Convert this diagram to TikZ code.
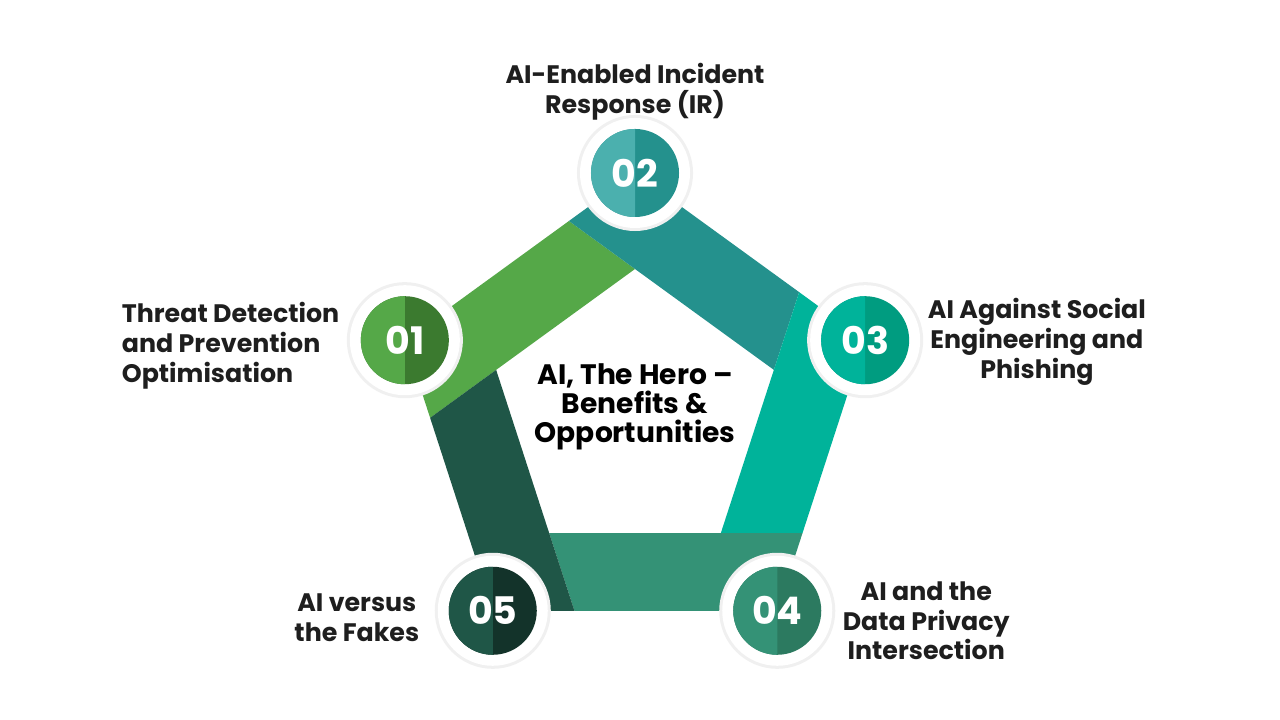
\documentclass[tikz,border=0pt]{standalone}
\usepackage{fontspec}
\setmainfont{Poppins}
\usetikzlibrary{calc,positioning}

\definecolor{bandA}{HTML}{55A848}
\definecolor{bandB}{HTML}{24918D}
\definecolor{bandC}{HTML}{00B39A}
\definecolor{bandD}{HTML}{349276}
\definecolor{bandE}{HTML}{1F5647}
\definecolor{darkA}{HTML}{3B7A2F}
\definecolor{lightB}{HTML}{4BB0AE}
\definecolor{darkC}{HTML}{009C80}
\definecolor{darkD}{HTML}{2C7A60}
\definecolor{darkE}{HTML}{13332A}
\definecolor{txt}{HTML}{1E1E1E}

\tikzset{
  ring/.style={circle,fill=white,minimum size=2.75cm,inner sep=0pt},
  num/.style={text=white,inner sep=0pt,font=\fontsize{27}{27}\selectfont\bfseries},
  lbl/.style={text=txt,inner sep=0pt,font=\fontsize{18}{21.3}\selectfont\bfseries}
}

\begin{document}
\begin{tikzpicture}[x=0.025cm,y=0.025cm]
    \useasboundingbox (0,0) rectangle (1280,720);
    \fill[white] (0,0) rectangle (1280,720);
    \coordinate (C) at (635,305);
    % outer and inner pentagon
    \foreach \k/\a in {1/162,2/90,3/18,4/-54,5/-126} {
      \coordinate (O\k) at ($(C)+(\a:242)$);
      \coordinate (I\k) at ($(C)+(\a:146)$);
    }
    \foreach \k/\p/\n in {1/5/2,2/1/3,3/2/4,4/3/5,5/4/1}
      \coordinate (Y\k) at (intersection cs: first line={(I\k)--(I\n)}, second line={(O\p)--(O\k)});
    % bands
    \foreach \k/\n/\c in {1/2/bandA,2/3/bandB,3/4/bandC,4/5/bandD,5/1/bandE}
      \fill[\c] (O\k) -- (Y\n) -- (I\n) -- (I\k) -- (Y\k) -- cycle;
    % circles
    \foreach \k/\l/\r in {1/bandA/darkA,2/lightB/bandB,3/bandC/darkC,4/bandD/darkD,5/bandE/darkE} {
      \fill[black!6] (O\k) circle (1.45cm);
      \node[ring] (ring\k) at (O\k) {};
      \fill[\r] (O\k) circle (1.1cm);
      \fill[\l] ($(O\k)+(0,1.1cm)$) arc[start angle=90,end angle=270,radius=1.1cm] -- cycle;
      \node[num] (num\k) at (O\k) {0\k};
    }
    % labels
    \node[lbl,align=left,left=0.25cm of ring1,yshift=-0.14cm] (lab1) {Threat Detection\\and Prevention\\Optimisation};
    \node[lbl,align=center,above=0.05cm of ring2,yshift=-0.13cm] (lab2) {AI-Enabled Incident\\Response (IR)};
    \node[lbl,align=center,right=0.18cm of ring3,yshift=-0.05cm] (lab3) {AI Against Social\\Engineering and\\Phishing};
    \node[lbl,align=center,right=0.25cm of ring4,yshift=-0.25cm] (lab4) {AI and the\\Data Privacy\\Intersection};
    \node[lbl,align=center,left=0.45cm of ring5,yshift=-0.18cm] (lab5) {AI versus\\the Fakes};
    \node[lbl,text=black,align=center,font=\fontsize{20}{20.8}\selectfont\bfseries] (title) at ($(C)+(0,8)$) {AI, The Hero --\\Benefits \&\\Opportunities};
\end{tikzpicture}
\end{document}
